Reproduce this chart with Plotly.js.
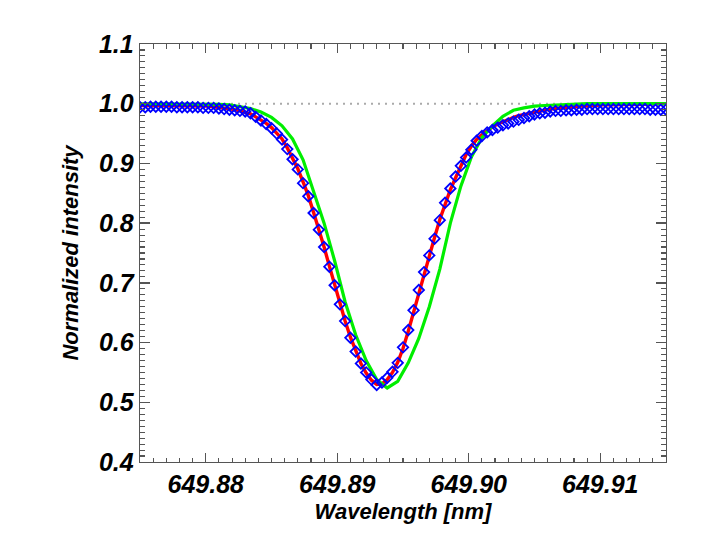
<!DOCTYPE html>
<html>
<head>
<meta charset="utf-8">
<script src="https://cdn.plot.ly/plotly-3.0.1.min.js"></script>
<style>html,body{margin:0;padding:0;background:#fff;}#chart{width:708px;height:550px;}</style>
</head>
<body>
<div id="chart"></div>
<script>
// Wavelength grid of the diamond / red profiles (nm)
const wavelength = [
649.8750,649.8754,649.8758,649.8762,649.8766,649.8770,649.8774,649.8778,649.8782,649.8786,
649.8790,649.8794,649.8798,649.8802,649.8806,649.8810,649.8814,649.8818,649.8822,649.8826,
649.8830,649.8834,649.8838,649.8842,649.8846,649.8850,649.8854,649.8858,649.8862,649.8866,
649.8870,649.8874,649.8878,649.8882,649.8886,649.8890,649.8894,649.8898,649.8902,649.8906,
649.8910,649.8914,649.8918,649.8922,649.8926,649.8930,649.8934,649.8938,649.8942,649.8946,
649.8950,649.8954,649.8958,649.8962,649.8966,649.8970,649.8974,649.8978,649.8982,649.8986,
649.8990,649.8994,649.8998,649.9002,649.9006,649.9010,649.9014,649.9018,649.9022,649.9026,
649.9030,649.9034,649.9038,649.9042,649.9046,649.9050,649.9054,649.9058,649.9062,649.9066,
649.9070,649.9074,649.9078,649.9082,649.9086,649.9090,649.9094,649.9098,649.9102,649.9106,
649.9110,649.9114,649.9118,649.9122,649.9126,649.9130,649.9134,649.9138,649.9142,649.9146,
649.9150];

// Blue diamonds (observed profile)
const observed = [
0.994,0.994,0.995,0.995,0.995,0.995,0.995,0.994,0.994,0.994,
0.994,0.994,0.993,0.993,0.993,0.992,0.991,0.990,0.989,0.988,
0.987,0.984,0.978,0.972,0.966,0.959,0.950,0.940,0.924,0.907,
0.890,0.867,0.845,0.817,0.789,0.760,0.727,0.696,0.664,0.636,
0.608,0.585,0.565,0.550,0.538,0.529,0.533,0.541,0.551,0.566,
0.592,0.621,0.654,0.688,0.718,0.746,0.774,0.805,0.834,0.858,
0.878,0.896,0.910,0.923,0.938,0.946,0.952,0.956,0.960,0.964,
0.967,0.970,0.973,0.976,0.979,0.982,0.984,0.985,0.987,0.988,
0.988,0.989,0.989,0.990,0.990,0.991,0.991,0.991,0.991,0.991,
0.991,0.991,0.991,0.991,0.991,0.991,0.991,0.990,0.990,0.990,
0.990];

// Red solid line (fit)
const fitted = [
0.997,0.997,0.997,0.997,0.997,0.997,0.997,0.997,0.997,0.997,
0.997,0.997,0.996,0.996,0.995,0.994,0.993,0.991,0.990,0.988,
0.986,0.983,0.978,0.973,0.967,0.960,0.951,0.941,0.926,0.909,
0.891,0.869,0.846,0.818,0.790,0.760,0.728,0.697,0.665,0.636,
0.609,0.585,0.565,0.549,0.537,0.530,0.531,0.538,0.550,0.567,
0.590,0.619,0.651,0.684,0.716,0.746,0.776,0.806,0.833,0.856,
0.876,0.897,0.915,0.929,0.940,0.948,0.955,0.961,0.966,0.970,
0.974,0.977,0.980,0.982,0.984,0.986,0.988,0.989,0.991,0.992,
0.993,0.994,0.995,0.995,0.996,0.996,0.997,0.997,0.998,0.998,
0.998,0.999,0.999,0.999,0.999,0.999,0.999,1.000,1.000,1.000,
1.000];

// Green line (reference profile), coarser grid
const wavelengthRef = [
649.8746,649.8754,649.8762,649.8770,649.8778,649.8786,649.8794,649.8802,649.8810,649.8818,
649.8826,649.8834,649.8842,649.8850,649.8858,649.8866,649.8874,649.8882,649.8890,649.8898,
649.8906,649.8914,649.8922,649.8930,649.8938,649.8946,649.8954,649.8962,649.8970,649.8978,
649.8986,649.8994,649.9002,649.9010,649.9018,649.9026,649.9034,649.9042,649.9050,649.9058,
649.9066,649.9074,649.9082,649.9090,649.9098,649.9106,649.9114,649.9122,649.9130,649.9138,
649.9146,649.9154];
const reference = [
1.000,1.000,1.000,1.000,1.000,1.000,1.000,0.999,0.999,0.998,
0.995,0.992,0.986,0.977,0.963,0.941,0.906,0.855,0.800,0.737,
0.668,0.613,0.570,0.538,0.524,0.535,0.566,0.607,0.660,0.723,
0.800,0.862,0.911,0.943,0.963,0.979,0.989,0.993,0.996,0.997,
0.998,0.999,0.999,1.000,1.000,1.000,1.000,1.000,1.000,1.000,
1.000,1.000];

const xTickVals = [649.88, 649.89, 649.90, 649.91];
const yTickVals = [0.4, 0.5, 0.6, 0.7, 0.8, 0.9, 1.0, 1.1];
const continuumLevel = 1.0;

const FONT = "'Liberation Sans Narrow', 'Arial Narrow', 'Liberation Sans', Arial, sans-serif";
const tickFont = {family: FONT, size: 25, color: '#000', weight: 'bold', style: 'italic'};
const titleFont = {family: FONT, size: 22, color: '#000', weight: 'bold', style: 'italic'};
const axisCol = '#555';

const traces = [
  {x: wavelength, y: fitted, type: 'scatter', mode: 'lines',
   line: {color: '#ff0000', width: 3.4}, hoverinfo: 'skip'},
  {x: wavelengthRef, y: reference, type: 'scatter', mode: 'lines',
   line: {color: '#00ee00', width: 3.2}, hoverinfo: 'skip'},
  {x: wavelength, y: observed, type: 'scatter', mode: 'markers',
   marker: {symbol: 'diamond-open', size: 8, color: '#0000ff', line: {color: '#0000ff', width: 1.8}},
   hoverinfo: 'skip'}
];

const layout = {
  width: 708, height: 550,
  margin: {l: 140, r: 42, t: 44, b: 88},
  paper_bgcolor: '#fff', plot_bgcolor: '#fff',
  showlegend: false,
  xaxis: {
    range: [649.875, 649.915], tickvals: xTickVals, tickformat: '.2f',
    ticks: 'inside', ticklen: 9, tickwidth: 1.3, tickcolor: axisCol,
    minor: {dtick: 0.001, ticks: 'inside', ticklen: 4.5, tickwidth: 1.1, tickcolor: axisCol, showgrid: false},
    showline: true, linecolor: axisCol, linewidth: 1.3, mirror: 'ticks',
    showgrid: false, zeroline: false, tickfont: tickFont, ticklabelstandoff: 0,
    title: {text: 'Wavelength [nm]', font: titleFont, standoff: 6},
    automargin: false
  },
  yaxis: {
    range: [0.4, 1.1], tickvals: yTickVals, tickformat: '.1f',
    ticks: 'inside', ticklen: 10, tickwidth: 1.3, tickcolor: axisCol,
    minor: {dtick: 0.01, ticks: 'inside', ticklen: 5, tickwidth: 1.1, tickcolor: axisCol, showgrid: false},
    showline: true, linecolor: axisCol, linewidth: 1.3, mirror: 'ticks',
    showgrid: false, zeroline: false, tickfont: tickFont,
    title: {text: 'Normalized intensity', font: titleFont, standoff: 14},
    automargin: false
  },
  shapes: [{type: 'line', xref: 'paper', x0: 0, x1: 1, yref: 'y', y0: continuumLevel, y1: continuumLevel,
            line: {color: '#aaaaaa', width: 2, dash: '2px,5px'}, layer: 'below'}]
};

Plotly.newPlot('chart', traces, layout, {staticPlot: true, displayModeBar: false});
</script>
</body>
</html>
